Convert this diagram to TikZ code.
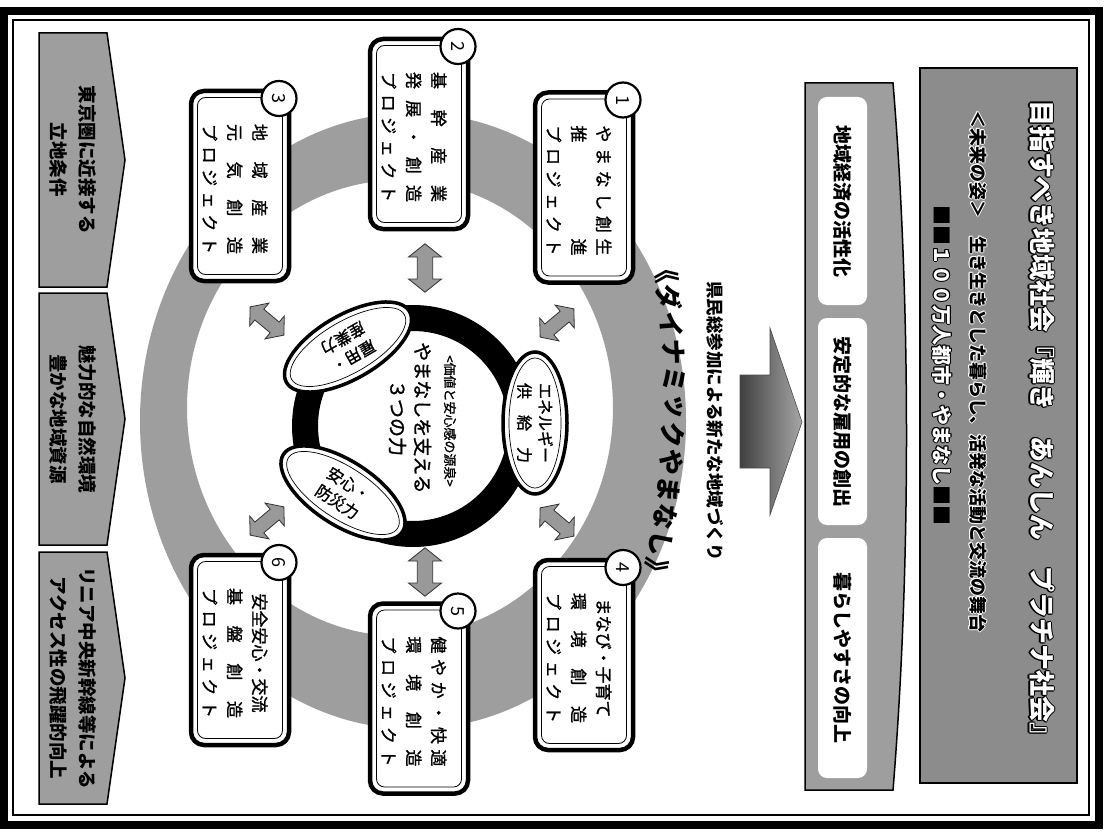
\documentclass[tikz,border=0pt]{standalone}
\usepackage{fontspec}
\setmainfont{Noto Sans CJK JP}
\newfontfamily\jpfb{Noto Sans CJK JP}[FakeBold=1.3]
\usetikzlibrary{shapes.geometric,calc}
\newcommand\myfs[2]{\fontsize{#1}{#2}\selectfont\lineskiplimit=-40pt\lineskip=0pt}
\newcommand\mydist[1]{\makebox[130pt][s]{#1}}
\newcommand\myctr[1]{\makebox[130pt]{#1}}
\newlength\myolw
\newcommand\myoutl[4]{\setlength\myolw{#3}%
\makebox[0pt][l]{\color{#1}\hspace*{-\myolw}#4}%
\makebox[0pt][l]{\color{#1}\hspace*{\myolw}#4}%
\makebox[0pt][l]{\color{#1}\raisebox{\myolw}{#4}}%
\makebox[0pt][l]{\color{#1}\raisebox{-\myolw}{#4}}%
\makebox[0pt][l]{\color{#1}\hspace*{-0.7\myolw}\raisebox{0.7\myolw}{#4}}%
\makebox[0pt][l]{\color{#1}\hspace*{0.7\myolw}\raisebox{0.7\myolw}{#4}}%
\makebox[0pt][l]{\color{#1}\hspace*{-0.7\myolw}\raisebox{-0.7\myolw}{#4}}%
\makebox[0pt][l]{\color{#1}\hspace*{0.7\myolw}\raisebox{-0.7\myolw}{#4}}%
{\color{#2}#4}}
\newcommand\mydarrow[4]{\draw[darr, shift={(#1,#2)}, rotate=#3, scale=#4] (-22,0) -- (-10,15) -- (-10,7) -- (10,7) -- (10,15) -- (22,0) -- (10,-15) -- (10,-7) -- (-10,-7) -- (-10,-15) -- cycle;}
\newcommand\myproj[4]{%
\node[pbox] (#1) at (#2) {};
\draw[pin] ($(#2)+(-42.5,-88.5)$) rectangle ($(#2)+(42.5,88.5)$);
\node[ptext] (#1t) at ($(#2)+(-5,3)$) {#4};
\node[pnum] (#1n) at ($(#2)+(39,-87.5)$) {#3};}
\begin{document}
\begin{tikzpicture}[x=1pt,y=-1pt,
  vt/.style={rotate=-90, inner sep=0pt, align=center},
  gband/.style={fill=black!38},
  pent/.style={draw, line width=1.5pt, fill=black!38},
  wbox/.style={fill=white, rounded corners=9pt, rotate=-90, inner sep=0pt, minimum height=49pt, font=\myfs{19}{22}\bfseries},
  darr/.style={fill=black!40, draw=black!80, line width=0.8pt},
  pbox/.style={draw, line width=4.5pt, rounded corners=13pt, fill=white, rotate=-90, inner sep=0pt, minimum width=190pt, minimum height=98pt},
  ptext/.style={rotate=-90, inner sep=0pt, align=center, font=\jpfb\myfs{17}{25}},
  pin/.style={line width=0.8pt, rounded corners=8pt},
  pnum/.style={circle, draw, line width=2.2pt, fill=white, inner sep=0pt, minimum size=35pt, rotate=-90, font=\myfs{18}{18}},
  ell/.style={ellipse, draw, line width=3.5pt, fill=white, inner sep=0pt, minimum width=142pt, minimum height=64pt, align=center, font=\jpfb\myfs{16}{21}},
  ellin/.style={line width=0.7pt}]
\useasboundingbox (0,0) rectangle (1105,832);
\fill[white] (0,0) rectangle (1105,832);
% frame
\draw[line width=8pt] (4,11) rectangle (1099,824.5);
\draw[line width=1.2pt] (13,20) rectangle (1089,815);
% title banner
\node[draw, line width=2pt, fill=black!45, minimum width=157pt, minimum height=715pt, inner sep=0pt] (tban) at (998.5,425.5) {};
\node[vt, anchor=west, font=\myfs{26}{30}\bfseries] (t1) at (1042,100) {\myoutl{black}{white}{1.2pt}{目指すべき地域社会『輝き　あんしん　プラチナ社会』}};
\node[vt, anchor=west, font=\myfs{18}{22}\bfseries] (t2) at (978,110) {\myoutl{white}{black}{0.9pt}{＜未来の姿＞　生き生きとした暮らし、活発な活動と交流の舞台}};
\node[vt, anchor=west, font=\myfs{20}{24}\bfseries] (t3) at (942,205) {■■\myoutl{black}{white}{1pt}{１００万人都市・やまなし}■■};
% goal banner
\draw[line width=1.5pt, fill=black!38] (805,83) -- (893,83) .. controls (911,300) and (911,570) .. (893,790) -- (805,790) -- cycle;
\node[wbox, minimum width=208pt] (b1) at (842.5,201) {地域経済の活性化};
\node[wbox, minimum width=207pt] (b2) at (842.5,421.5) {安定的な雇用の創出};
\node[wbox, minimum width=240pt] (b3) at (842.5,658) {暮らしやすさの向上};
% block arrow
\draw[draw=black!70, line width=0.6pt, left color=black!75, right color=black!35] (740,375) -- (770,375) -- (770,328) -- (802,422) -- (770,515) -- (770,468) -- (740,468) -- cycle;
\node[vt, font=\myfs{17.5}{20}\bfseries] (kenmin) at (715,421) {県民総参加による新たな地域づくり};
% ring
\fill[gband, even odd rule] (413,421) ellipse [x radius=273, y radius=308] (400,408) ellipse [x radius=213, y radius=228];
\foreach \c [count=\i from 0] in {《,ダ,イ,ナ,ミ,ッ,ク,や,ま,な,し,》}{
  \pgfmathsetmacro\ang{-7.75+1.77*\i}
  \node[rotate={-90-(\ang)}, inner sep=0pt, font=\myfs{26}{26}\bfseries] (dy\i) at ($(-216,390)+(\ang:890)$) {\c};
}
% left pentagons
\draw[pent] (39,33) -- (107,33) -- (125,160) -- (107,287) -- (39,287) -- cycle;
\draw[pent] (39,293) -- (107,293) -- (125,419) -- (107,545) -- (39,545) -- cycle;
\draw[pent] (39,552) -- (107,552) -- (125,678) -- (107,804) -- (39,804) -- cycle;
\node[vt, font=\myfs{18.5}{29}\bfseries] (l1) at (73,160) {東京圏に近接する\\立地条件};
\node[vt, font=\myfs{18.5}{29}\bfseries] (l2) at (73,419) {魅力的な自然環境\\豊かな地域資源};
\node[vt, font=\myfs{18.5}{29}\bfseries] (l3) at (73,678) {リニア中央新幹線等による\\アクセス性の飛躍的向上};
% double arrows
\mydarrow{425}{268}{90}{1.1}
\mydarrow{425}{572}{90}{1.1}
\mydarrow{557}{323}{40}{1}
\mydarrow{557}{522}{-40}{1}
\mydarrow{267}{321}{140}{1}
\mydarrow{267}{521}{-140}{1}
% center ring
\draw[line width=26pt] (413,426) circle [radius=108];
\node[vt, font=\jpfb\myfs{13}{15}] (csub) at (450,421) {<価値と安心感の源泉>};
\node[vt, font=\jpfb\myfs{19}{25}] (cmain) at (410,418) {やまなしを支える\\３つの力};
\node[ell, rotate=-90] (e1) at (535,423) {エネルギー\\\makebox[80pt][s]{供 給 力}};
\draw[ellin, rotate around={-90:(535,423)}] (535,423) ellipse [x radius=65, y radius=26];
\node[ell, rotate=-150] (e2) at (348,347) {雇用・\\産業力};
\draw[ellin, rotate around={-150:(348,347)}] (348,347) ellipse [x radius=65, y radius=26];
\node[ell, rotate=-33] (e3) at (343,493) {安心・\\防災力};
\draw[ellin, rotate around={-33:(343,493)}] (343,493) ellipse [x radius=65, y radius=26];
% project boxes
\myproj{p1}{584,187.5}{1}{\mydist{や ま な し 創 生}\\\mydist{推 進}\\\mydist{プ ロ ジ ェ ク ト}}
\myproj{p2}{419,134}{2}{\mydist{基 幹 産 業}\\\mydist{発 展 ・ 創 造}\\\mydist{プ ロ ジ ェ ク ト}}
\myproj{p3}{240,186}{3}{\mydist{地 域 産 業}\\\mydist{元 気 創 造}\\\mydist{プ ロ ジ ェ ク ト}}
\myproj{p4}{584,655}{4}{\myctr{まなび・子育て}\\\mydist{環 境 創 造}\\\mydist{プ ロ ジ ェ ク ト}}
\myproj{p5}{419,698.5}{5}{\mydist{健 や か ・ 快 適}\\\mydist{環 境 創 造}\\\mydist{プ ロ ジ ェ ク ト}}
\myproj{p6}{240,650}{6}{\myctr{安全安心・交流}\\\mydist{基 盤 創 造}\\\mydist{プ ロ ジ ェ ク ト}}
\end{tikzpicture}
\end{document}
